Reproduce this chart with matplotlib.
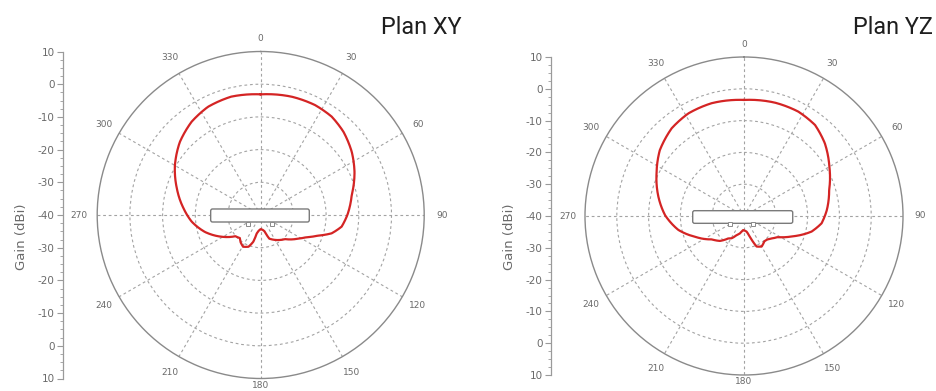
import numpy as np
import matplotlib
matplotlib.use("Agg")
import matplotlib.pyplot as plt
from matplotlib.patches import FancyBboxPatch, Rectangle
from matplotlib.ticker import MultipleLocator, FuncFormatter

# ---------------- data ----------------
titles = ["Plan XY", "Plan YZ"]
angle_labels = ["0", "30", "60", "90", "120", "150", "180", "210", "240", "270", "300", "330"]
angle_ticks = [0, 30, 60, 90, 120, 150, 180, 210, 240, 270, 300, 330]
gain_ring_ticks = [-30, -20, -10, 0]
r_min, r_max = -40, 10

xy_theta = [0, 14.7, 26.3, 35.8, 44.8, 55.2, 65.2, 77.6, 90, 98.2, 104.5, 110, 116, 122,
            134.6, 150, 160, 163, 166, 172, 180, 187, 192, 195.5, 201, 209, 216, 222,
            230, 241, 253, 264.5, 275, 287.6, 300, 312, 323.5, 334, 346, 360]
xy_gain = [-3.1, -2.6, -2.5, -2.9, -4.1, -6.1, -8.4, -11.5, -13.5, -15.0, -17.6, -21.5,
           -24.5, -26.4, -29.5, -31.2, -32.3, -33.5, -34.8, -35.4, -35.7, -35.2, -34.3,
           -31.5, -29.6, -28.9, -29.6, -30.5, -29.9, -26.3, -22.2, -18.8, -16.3, -13.1,
           -9.7, -6.7, -4.5, -3.2, -2.7, -3.1]

yz_theta = [0, 15.3, 27.5, 38, 48, 60, 73, 86, 95.4, 103, 113, 122, 129, 135, 141, 150,
            157.5, 162, 166, 170, 177, 183, 188, 193, 201, 209, 215, 224, 234, 247, 258,
            270.5, 282.7, 296, 308, 320.5, 331.5, 344, 360]
yz_gain = [-3.5, -3.05, -3.0, -3.7, -5.8, -9.0, -12.0, -13.9, -15.5, -18.2, -23.6, -27.5,
           -28.8, -29.6, -29.8, -28.9, -29.6, -32.1, -34.0, -35.0, -35.4, -35.6, -35.2,
           -34.4, -33.6, -32.0, -31.4, -29.1, -27.5, -23.3, -18.9, -15.2, -12.4, -9.4,
           -6.4, -4.25, -3.3, -3.1, -3.5]

curves = [(xy_theta, xy_gain), (yz_theta, yz_gain)]

# ---------------- layout ----------------
W, H = 937, 391
fig = plt.figure(figsize=(W / 100, H / 100), dpi=100)
fig.patch.set_facecolor("white")

def px_box(x0, y0, x1, y1):
    return [x0 / W, (H - y1) / H, (x1 - x0) / W, (y1 - y0) / H]

polar_boxes = [px_box(97.2, 51.5, 424.2, 378.5), px_box(585, 57, 903, 375)]
gain_axis_x = [63, 551]
gain_label_x = [22, 510]
title_right_x = [462, 933]
ant_boxes = [(0.347, 0.4786, 0.3016, 0.0398), (0.3387, 0.477, 0.3145, 0.0397)]
ant_marks = [[(0.462, 0.4716), (0.5336, 0.4716)], [(0.456, 0.474), (0.529, 0.474)]]

grid_col = "#a3a3a3"
text_col = "#6a6a6a"

for i in range(2):
    ax = fig.add_axes(polar_boxes[i], projection="polar")
    ax.set_theta_zero_location("N")
    ax.set_theta_direction(-1)
    ax.set_ylim(r_min, r_max)
    ax.set_yticks(gain_ring_ticks)
    ax.set_yticklabels([])
    ax.set_xticks(np.deg2rad(angle_ticks))
    ax.set_xticklabels([])
    ax.tick_params(axis="y", length=0)
    ax.tick_params(axis="x", direction="in", length=5, width=0.8, color="#8a8a8a")
    ax.grid(True, color=grid_col, linestyle=(0, (2.5, 2.5)), linewidth=0.8)
    ax.spines["polar"].set_color("#8a8a8a")
    ax.spines["polar"].set_linewidth(1.0)
    ax.set_facecolor("white")

    th, g = curves[i]
    ln, = ax.plot(np.deg2rad(th), g, color="#d42424", linewidth=1.6, zorder=5)
    # draw segments along the polar scale (arcs in data space) instead of chords
    ln.get_path()._interpolation_steps = 40

    # angle labels
    for a, lab in zip(angle_ticks, angle_labels):
        f = 1.08 if a == 0 else (1.04 if a == 180 else 1.11)
        rr = r_min + f * (r_max - r_min)
        ax.text(np.deg2rad(a), rr, lab, ha="center", va="center", fontsize=6.5,
                color=text_col, clip_on=False)

    # antenna outline
    bx, by, bw, bh = ant_boxes[i]
    ax.add_patch(FancyBboxPatch((bx, by), bw, bh, boxstyle="round,pad=0,rounding_size=0.006",
                                transform=ax.transAxes, facecolor="white",
                                edgecolor="#7a7a7a", linewidth=1.0, zorder=4))
    for (mx, my) in ant_marks[i]:
        ax.add_patch(Rectangle((mx - 0.006, my - 0.006), 0.012, 0.012,
                               transform=ax.transAxes, facecolor="white",
                               edgecolor="#8a8a8a", linewidth=0.7, zorder=4))

    # gain axis
    pb = polar_boxes[i]
    gax = fig.add_axes([gain_axis_x[i] / W, pb[1], 0.0005, pb[3]])
    gax.set_facecolor("none")
    for s in ("right", "top", "bottom"):
        gax.spines[s].set_visible(False)
    gax.spines["left"].set_color("#9a9a9a")
    gax.spines["left"].set_linewidth(0.9)
    gax.set_xticks([])
    gax.set_ylim(-(r_max - r_min), r_max - r_min)
    gax.yaxis.set_major_locator(MultipleLocator(10))
    gax.yaxis.set_minor_locator(MultipleLocator(2.5))
    gax.yaxis.set_major_formatter(FuncFormatter(lambda v, p: f"{int(round(abs(v) + r_min))}"))
    gax.tick_params(axis="y", which="major", length=4, width=0.8, color="#9a9a9a",
                    labelsize=7.5, labelcolor=text_col, pad=2)
    gax.tick_params(axis="y", which="minor", length=2, width=0.6, color="#9a9a9a")

    fig.text(gain_label_x[i] / W, (H - 237) / H, "Gain (dBi)", rotation=90,
             ha="center", va="center", fontsize=9.5, color=text_col)

    fig.text(title_right_x[i] / W, (H - 34.3) / H, titles[i], ha="right",
             va="baseline", fontsize=16.8, family="Roboto", color="#1e1e1e")

fig.savefig("out.png", dpi=100, facecolor="white")
